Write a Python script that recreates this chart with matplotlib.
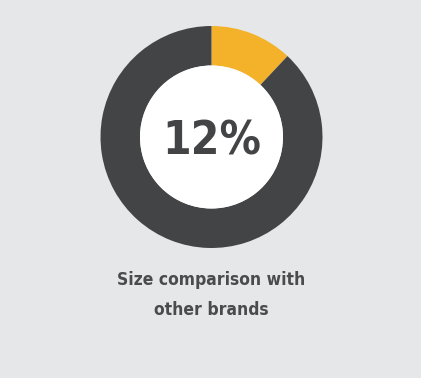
import matplotlib
matplotlib.use("Agg")
import matplotlib.pyplot as plt
from matplotlib.patches import Circle

labels = ["This brand", "Other brands"]
values = [12, 88]
colors = ["#f3b229", "#434446"]
center_label = "12%"
caption = "Size comparison with\nother brands"

W, H = 421, 378
fig = plt.figure(figsize=(W / 100, H / 100), dpi=100)
fig.patch.set_facecolor("#e6e7e9")
ax = fig.add_axes([0, 0, 1, 1])
ax.set_facecolor("#e6e7e9")

cx, cy = 211.5, H - 137
R, r = 111, 71.5
ax.pie(values, colors=colors, startangle=90, counterclock=False,
       radius=R, center=(cx, cy),
       wedgeprops=dict(width=R - r, linewidth=0))
ax.add_patch(Circle((cx, cy), r, facecolor="white", edgecolor="none", zorder=3))
ax.text(cx, cy, center_label, ha="center", va="center_baseline", zorder=4,
        fontsize=33, fontweight="bold", fontstretch="condensed", color="#434446",
        family="DejaVu Sans")
ax.text(cx, H - 295, caption, ha="center", va="center", linespacing=1.85,
        fontsize=12.5, fontweight="bold", fontstretch="condensed", color="#4a4b4d",
        family="DejaVu Sans")

ax.set_xlim(0, W)
ax.set_ylim(0, H)
ax.set_aspect("equal")
ax.axis("off")
fig.savefig("out.png", dpi=100, facecolor=fig.get_facecolor())
